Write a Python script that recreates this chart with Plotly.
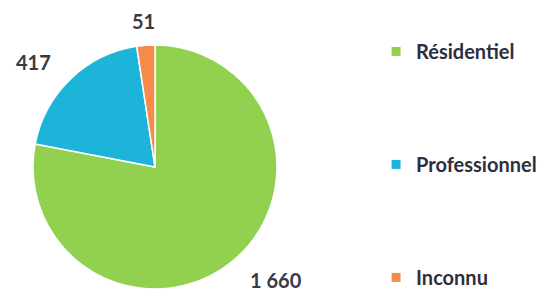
import math
import plotly.graph_objects as go

categories = ["Résidentiel", "Professionnel", "Inconnu"]
values = [1660, 417, 51]
value_labels = ["1 660", "417", "51"]
colors = ["#92D050", "#1CB4D9", "#F58A4B"]

W, H = 551, 299
cx, cy, r = 147, 159, 122  # pie center/radius in px (from top-left)

fig = go.Figure()
fig.add_trace(go.Pie(
    labels=categories, values=values,
    sort=False, direction="clockwise", rotation=0,
    marker=dict(colors=colors, line=dict(color="white", width=1.5)),
    textinfo="none", showlegend=False, hoverinfo="label+value",
    domain=dict(x=[(cx - r) / W, (cx + r) / W],
                y=[(H - cy - r) / H, (H - cy + r) / H]),
))

# value labels placed outside each slice, at its mid-angle
total = sum(values)
cum = 0
R = r * 1.2
for v, lab in zip(values, value_labels):
    ang = math.radians((cum + v / 2) / total * 360)
    cum += v
    s, c = math.sin(ang), math.cos(ang)
    xa = "left" if s > 0.3 else ("right" if s < -0.3 else "center")
    fig.add_annotation(
        x=(cx + R * s) / W, y=(H - cy + R * c) / H,
        xref="paper", yref="paper", text=lab, showarrow=False,
        xanchor=xa, yanchor="middle",
        font=dict(family="Lato", size=20, color="#3a3a44", weight="bold"),
    )

for name, col in zip(categories, colors):
    fig.add_trace(go.Scatter(
        x=[None], y=[None], mode="markers", name=name,
        marker=dict(symbol="square", size=9, color=col),
        legendgroup=name, showlegend=True,
    ))

fig.update_layout(
    width=W, height=H,
    margin=dict(l=0, r=0, t=0, b=0),
    paper_bgcolor="white", plot_bgcolor="white",
    xaxis=dict(visible=False), yaxis=dict(visible=False),
    legend=dict(x=0.668, y=0.92, xanchor="left", yanchor="top",
                tracegroupgap=84, itemwidth=30,
                font=dict(family="Lato", size=20, color="#2e2e3c", weight="bold")),
)

fig.write_html("out.html")
